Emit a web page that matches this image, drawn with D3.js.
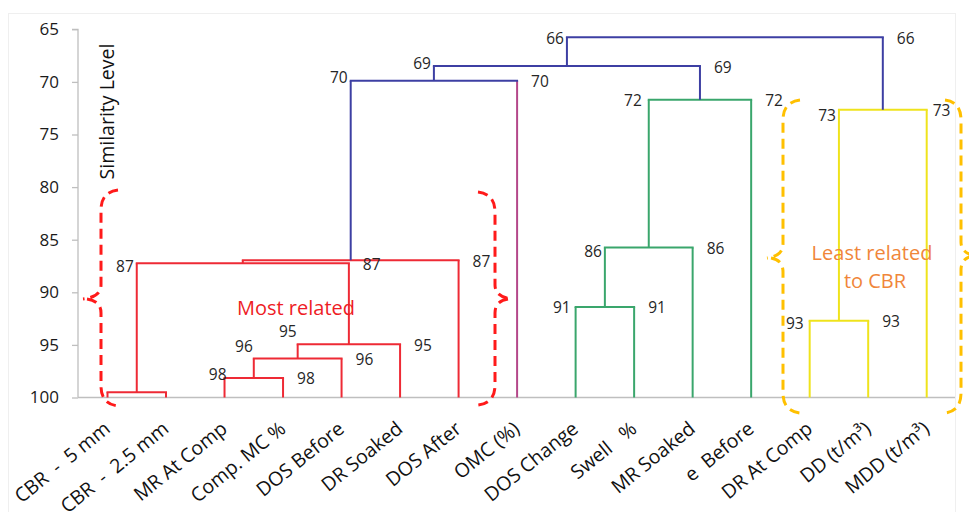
<!DOCTYPE html>
<html>
<head>
<meta charset="utf-8">
<script src="https://cdn.jsdelivr.net/npm/d3@7"></script>
<style>
  html, body { margin: 0; padding: 0; background: #fff; }
  svg { display: block; }
  text { font-family: "Open Sans", "Noto Sans", sans-serif; }
</style>
</head>
<body>
<svg id="chart" width="969" height="512"></svg>
<script>
// ---------- DATA ----------
const categories = ["CBR  -  5 mm", "CBR  -  2.5 mm", "MR At Comp", "Comp. MC %", "DOS Before",
  "DR Soaked", "DOS After", "OMC (%)", "DOS Change", "Swell   %", "MR Soaked", "e  Before",
  "DR At Comp", "DD (t/m\u00B3)", "MDD (t/m\u00B3)"];
// merges: node id of merge i is categories.length + i
const mergeLeft  = [0, 2, 16, 17, 15, 19, 20, 8, 22, 23, 21, 12, 26, 25];
const mergeRight = [1, 3, 4, 5, 18, 6, 7, 9, 10, 11, 24, 13, 14, 27];
const mergeLevel = [99.5, 98.15, 96.3, 94.95, 87.25, 86.95, 69.9, 91.4, 85.75, 71.7, 68.5, 92.7, 72.65, 65.75];
const leftLabel  = ["", "98", "96", "95", "87", "", "70", "91", "86", "72", "69", "93", "73", "66"];
const rightLabel = ["", "98", "96", "95", "87", "87", "70", "91", "86", "72", "69", "93", "73", "66"];
const mergeGroup = ["related", "related", "related", "related", "related", "related", "top",
  "mid", "mid", "mid", "top", "least", "least", "top"];
const leafGroup = {7: "omc"};
const yTicks = [65, 70, 75, 80, 85, 90, 95, 100];
const yDomain = [65, 100];

// ---------- STYLE ----------
const colors = { related: "#ee2a35", top: "#3d3fa3", mid: "#3aa66c", least: "#efe31c", omc: "#b4478a" };
const leftNudge = {1: [5, -4], 2: [2, -13], 3: [2, -14], 4: [0, 2], 6: [0, -4], 10: [0, -4],
  9: [-4, 0], 12: [0, 5], 8: [0, 3], 7: [-2, 0], 11: [-3, 2]};
const rightNudge = {12: [-8, 0]};

const svg = d3.select("#chart");

// faint frame
svg.append("rect").attr("x", 8.5).attr("y", 13.5).attr("width", 947).attr("height", 520)
  .attr("fill", "none").attr("stroke", "#efefef").attr("stroke-width", 1);

const x = d3.scalePoint().domain(d3.range(categories.length)).range([107.5, 926.7]);
const y = d3.scaleLinear().domain(yDomain).range([29.3, 397.5]);

// axes
const yAxis = d3.axisLeft(y).tickValues(yTicks).tickSize(6).tickPadding(13).tickFormat(d3.format("d"));
const gy = svg.append("g").attr("transform", "translate(78,0)").call(yAxis);
gy.selectAll("path, line").attr("stroke", "#bfbfbf").attr("stroke-width", 1.3);
gy.select(".domain").attr("d", `M-6,${y(65)}H0V${y(100)}`);
gy.selectAll("text").attr("font-size", 17).attr("fill", "#1a1a1a")
  .style("font-family", '"Open Sans", sans-serif');

svg.append("line").attr("x1", 78).attr("x2", 955).attr("y1", y(100)).attr("y2", y(100))
  .attr("stroke", "#bfbfbf").attr("stroke-width", 1.3);

// category labels
svg.append("g").selectAll("text").data(categories).join("text")
  .attr("transform", (d, i) => `translate(${x(i) + 4},431) rotate(-39)`)
  .attr("text-anchor", "end")
  .attr("font-size", 19.5).attr("fill", "#111")
  .style("white-space", "pre")
  .text(d => d);

// axis title
svg.append("text").attr("transform", "translate(114,111.5) rotate(-90)")
  .attr("text-anchor", "middle").attr("font-size", 19.5).attr("fill", "#111")
  .text("Similarity Level");

// compute node positions
const n = categories.length;
const nodeX = [], nodeY = [];
for (let i = 0; i < n; i++) { nodeX[i] = x(i); nodeY[i] = yDomain[1]; }
mergeLeft.forEach((l, i) => {
  const r = mergeRight[i];
  nodeX[n + i] = (nodeX[l] + nodeX[r]) / 2;
  nodeY[n + i] = mergeLevel[i];
});

const gl = svg.append("g").attr("fill", "none").attr("stroke-width", 2);
mergeLeft.forEach((l, i) => {
  const r = mergeRight[i];
  const c = colors[mergeGroup[i]];
  const lev = y(mergeLevel[i]);
  [l, r].forEach(ch => {
    const cc = (ch < n && leafGroup[ch]) ? colors[leafGroup[ch]] : c;
    gl.append("line").attr("x1", nodeX[ch]).attr("x2", nodeX[ch])
      .attr("y1", y(nodeY[ch])).attr("y2", lev).attr("stroke", cc);
  });
  gl.append("line").attr("x1", nodeX[l]).attr("x2", nodeX[r])
    .attr("y1", lev).attr("y2", lev).attr("stroke", c).attr("stroke-linecap", "square");
});

// merge labels
const glab = svg.append("g").attr("font-size", 15.5).attr("fill", "#262626");
mergeLeft.forEach((l, i) => {
  const r = mergeRight[i];
  const lev = y(mergeLevel[i]);
  if (leftLabel[i]) {
    const nd = leftNudge[i] || [0, 0];
    glab.append("text").attr("x", nodeX[l] - 3 + nd[0]).attr("y", lev + 1 + nd[1])
      .attr("dy", "0.35em").attr("text-anchor", "end").text(leftLabel[i]);
  }
  if (rightLabel[i]) {
    const nd = rightNudge[i] || [0, 0];
    glab.append("text").attr("x", nodeX[r] + 14 + nd[0]).attr("y", lev + 1 + nd[1])
      .attr("dy", "0.35em").attr("text-anchor", "start").text(rightLabel[i]);
  }
});

// annotations
svg.append("text").attr("x", 296).attr("y", 308).attr("dy", "0.35em").attr("text-anchor", "middle")
  .attr("font-size", 20).attr("fill", "#ee1c25").text("Most related");
const lt = svg.append("text").attr("text-anchor", "middle").attr("font-size", 20).attr("fill", "#f0863a");
lt.append("tspan").attr("x", 872).attr("y", 253).attr("dy", "0.35em").text("Least related");
lt.append("tspan").attr("x", 875).attr("y", 281).attr("dy", "0.35em").text("to CBR");

function leftBrace(xv, xt, yTop, yMid, yBot, xTip) {
  const p = d3.path();
  p.moveTo(xt, yTop);
  p.quadraticCurveTo(xv, yTop + 2, xv, yTop + 20);
  p.lineTo(xv, yMid - 14);
  p.quadraticCurveTo(xv, yMid - 2, xTip, yMid);
  p.moveTo(xTip + (xTip < xv ? 4 : -4), yMid);
  p.quadraticCurveTo(xv, yMid + 2, xv, yMid + 14);
  p.lineTo(xv, yBot - 20);
  p.quadraticCurveTo(xv, yBot - 2, xt, yBot);
  return p.toString();
}
const braces = svg.append("g").attr("fill", "none").attr("stroke-width", 3).attr("stroke-dasharray", "10,6");
braces.append("path").attr("d", leftBrace(101, 118, 190, 299, 406, 83)).attr("stroke", "#ff1a1a");
braces.append("path").attr("d", leftBrace(495, 478, 192, 299, 405, 512)).attr("stroke", "#ff1a1a");
braces.append("path").attr("d", leftBrace(783, 800, 100, 258, 413, 767)).attr("stroke", "#ffc000");
braces.append("path").attr("d", leftBrace(961, 945, 100, 256, 413, 977)).attr("stroke", "#ffc000");
</script>
</body>
</html>
